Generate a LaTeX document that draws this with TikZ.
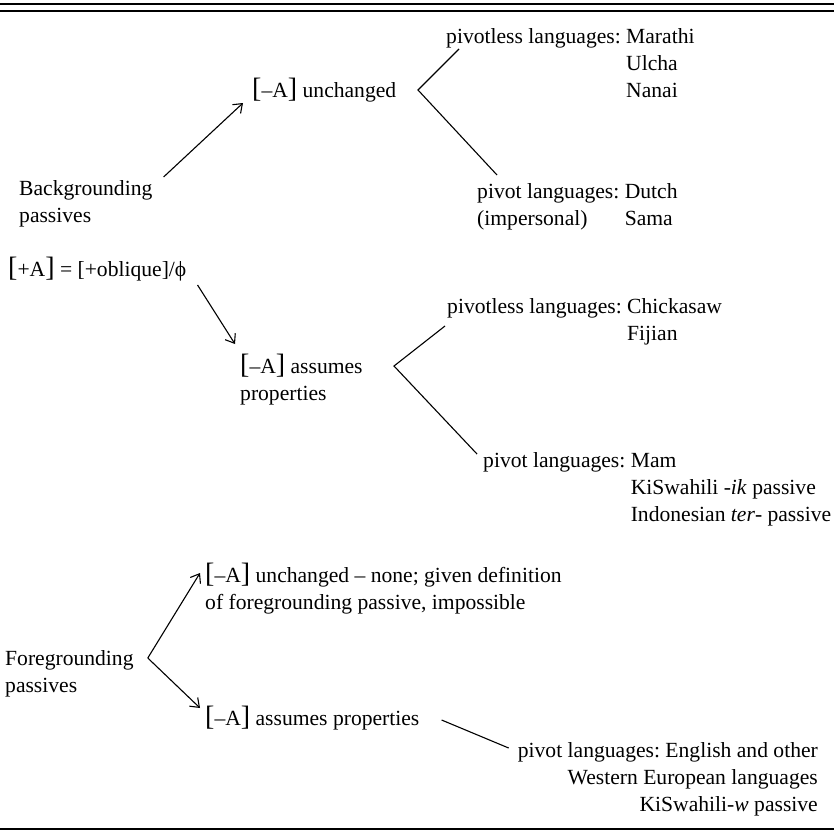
\documentclass[tikz,border=0pt]{standalone}
\usepackage{fontspec}
\setmainfont{Liberation Serif}
\usepackage{tikz}
\usetikzlibrary{arrows.meta}
\tikzstyle{entry}  = [anchor=base west, inner sep=0pt]
\tikzstyle{entryr} = [anchor=base east, inner sep=0pt]
\tikzstyle{branch} = [draw, line width=1.1pt, -{Straight Barb[length=8pt,width=12pt]}]
\tikzstyle{fork}   = [draw, line width=1.1pt]
\tikzstyle{hrule}  = [draw, line width=2.2pt]
\newcommand{\Lbrk}{{\fontsize{28}{28}\selectfont[}}
\newcommand{\Rbrk}{{\fontsize{28}{28}\selectfont]}}

\begin{document}
\begin{tikzpicture}[x=1pt, y=-1pt, font=\fontsize{21.6}{27}\selectfont\frenchspacing]
	\useasboundingbox (0,0) rectangle (834,833);

	% rules
	\path [hrule] (0,4) -- (834,4);
	\path [hrule] (0,11) -- (834,11);
	\path [hrule, line width=2.8pt] (0,829) -- (834,829);

	% backgrounding passives
	\node [entry] (Bg) at (19,195) {\begin{tabular}[t]{@{}l@{}}Backgrounding\\ passives\end{tabular}};
	\node [entry] (Ua) at (252,97) {\Lbrk–A\Rbrk{} unchanged};
	\node [entry] (Pl1) at (446,43) {\begin{tabular}[t]{@{}l@{ }l@{}}pivotless languages: & Marathi\\ & Ulcha\\ & Nanai\end{tabular}};
	\node [entry] (Pv1) at (477,198) {\begin{tabular}[t]{@{}l@{ }l@{}}pivot languages: & Dutch\\ (impersonal) & Sama\end{tabular}};
	\coordinate (V1) at (418,90);

	% oblique agent
	\node [entry] (Ob) at (8,276) {\Lbrk+A\Rbrk{} = [+oblique]/ϕ};
	\node [entry] (As) at (240,373) {\begin{tabular}[t]{@{}l@{}}\Lbrk–A\Rbrk{} assumes\\ properties\end{tabular}};
	\node [entry] (Pl2) at (447,313) {\begin{tabular}[t]{@{}l@{ }l@{}}pivotless languages: & Chickasaw\\ & Fijian\end{tabular}};
	\node [entry] (Pv2) at (483,467) {\begin{tabular}[t]{@{}l@{ }l@{}}pivot languages: & Mam\\ & KiSwahili -\textit{ik} passive\\ & Indonesian \textit{ter}- passive\end{tabular}};
	\coordinate (V2) at (394,366);

	% foregrounding passives
	\node [entry] (Fg) at (5,665) {\begin{tabular}[t]{@{}l@{}}Foregrounding\\ passives\end{tabular}};
	\node [entry] (Un) at (205,582) {\begin{tabular}[t]{@{}l@{}}\Lbrk–A\Rbrk{} unchanged – none; given definition\\ of foregrounding passive, impossible\end{tabular}};
	\node [entry] (Ap) at (205,725) {\Lbrk–A\Rbrk{} assumes properties};
	\node [entryr] (Pv3) at (818,757) {\begin{tabular}[t]{@{}r@{}}pivot languages: English and other\\ Western European languages\\ KiSwahili-\textit{w} passive\end{tabular}};
	\coordinate (V3) at ([shift={(14pt,7pt)}]Fg.base east);

	% draw edges
	\path [branch] ([shift={(11pt,18pt)}]Bg.base east) -- ([shift={(-9pt,-6pt)}]Ua.base west);
	\path [fork] ([shift={(13pt,-6pt)}]Pl1.base west) -- (V1) -- ([shift={(20pt,23pt)}]Pv1.base west);
	\path [branch] ([shift={(11pt,-9pt)}]Ob.base east) -- ([shift={(-5pt,29pt)}]As.base west);
	\path [fork] ([shift={(-2pt,-13pt)}]Pl2.base west) -- (V2) -- ([shift={(-6pt,13pt)}]Pv2.base west);
	\path [branch] (V3) -- ([shift={(-5pt,9pt)}]Un.base west);
	\path [branch] (V3) -- ([shift={(-5pt,17pt)}]Ap.base west);
	\path [fork] ([shift={(22pt,5pt)}]Ap.base east) -- ([shift={(-9pt,9pt)}]Pv3.base west);
\end{tikzpicture}
\end{document}
